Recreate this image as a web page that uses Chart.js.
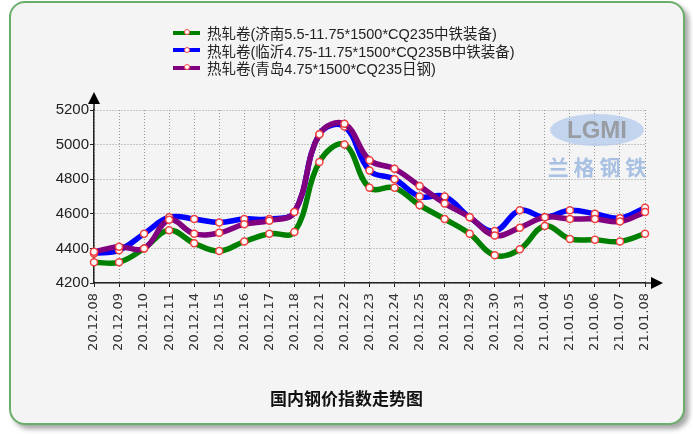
<!DOCTYPE html>
<html lang="zh-CN">
<head>
<meta charset="utf-8">
<title>国内钢价指数走势图</title>
<script src="https://cdn.jsdelivr.net/npm/chart.js@4.4.1/dist/chart.umd.min.js"></script>
<style>
  html, body { margin: 0; padding: 0; background: #fff; }
  #contenedor { position: relative; width: 693px; height: 434px; overflow: hidden; }
  #marco {
    position: absolute; left: 9px; top: 1px; width: 672px; height: 420px;
    border: 2px solid #6aae6a; border-radius: 16px; background: #f4f4f4;
    box-shadow: 4px 4px 5px rgba(0, 0, 0, 0.35);
  }
  #grafico { position: absolute; left: 0; top: 0; }
  #leyenda {
    position: absolute; left: 173px; top: 24px;
    font: 14.5px "Liberation Sans", "Noto Sans CJK SC", sans-serif; color: #222;
  }
  .fila { height: 17.5px; display: flex; align-items: center; white-space: nowrap; }
  .muestra { position: relative; width: 27px; height: 4px; margin-right: 7px; }
  .muestra i {
    position: absolute; left: 11px; top: -1.5px; width: 4px; height: 4px;
    border: 1.5px solid #f44; background: #fff; border-radius: 50%;
  }
  #titulo {
    position: absolute; left: 0; width: 693px; top: 385px; text-align: center;
    font: bold 17px "Noto Sans CJK SC", sans-serif; color: #111;
  }
</style>
</head>
<body>
<div id="contenedor">
  <div id="marco"></div>
  <canvas id="grafico" width="693" height="434"></canvas>
  <div id="leyenda"></div>
  <div id="titulo">国内钢价指数走势图</div>
</div>
<script>
// Datos
const etiquetas = ['20.12.08', '20.12.09', '20.12.10', '20.12.11', '20.12.14', '20.12.15', '20.12.16',
  '20.12.17', '20.12.18', '20.12.21', '20.12.22', '20.12.23', '20.12.24', '20.12.25', '20.12.28',
  '20.12.29', '20.12.30', '20.12.31', '21.01.04', '21.01.05', '21.01.06', '21.01.07', '21.01.08'];

const nombreJinan = '热轧卷(济南5.5-11.75*1500*CQ235中铁装备)';
const nombreLinyi = '热轧卷(临沂4.75-11.75*1500*CQ235B中铁装备)';
const nombreQingdao = '热轧卷(青岛4.75*1500*CQ235日钢)';

const precioJinan = [4320, 4320, 4400, 4505, 4430, 4385, 4440, 4485, 4495, 4900, 5000, 4750,
  4750, 4650, 4570, 4485, 4360, 4395, 4530, 4455, 4450, 4440, 4485];
const precioLinyi = [4370, 4390, 4485, 4580, 4570, 4550, 4570, 4570, 4610, 5060, 5105, 4850,
  4800, 4700, 4700, 4580, 4500, 4620, 4580, 4620, 4600, 4575, 4635];
const precioQingdao = [4380, 4410, 4400, 4565, 4485, 4490, 4540, 4560, 4610, 5060, 5120, 4910,
  4860, 4760, 4660, 4580, 4475, 4520, 4580, 4570, 4570, 4555, 4610];

const ticksEjeY = [4200, 4400, 4600, 4800, 5000, 5200];

const colorJinan = '#008000';
const colorLinyi = '#0000ff';
const colorQingdao = '#800080';

/**
 * Crea un conjunto de datos con el estilo común de las líneas
 */
function crearSerie(nombre, datos, color, orden) {
  return {
    label: nombre,
    data: datos,
    borderColor: color,
    backgroundColor: color,
    borderWidth: 5.5,
    tension: 0.4,
    fill: false,
    pointRadius: 3.5,
    pointBorderWidth: 1.5,
    pointBackgroundColor: '#fff',
    pointBorderColor: '#f04040',
    order: orden
  };
}

/**
 * Construye la leyenda en HTML
 */
function construirLeyenda(series) {
  const leyenda = document.getElementById('leyenda');
  series.forEach(s => {
    const fila = document.createElement('div');
    fila.className = 'fila';
    const muestra = document.createElement('span');
    muestra.className = 'muestra';
    muestra.style.background = s.color;
    muestra.appendChild(document.createElement('i'));
    const texto = document.createElement('span');
    texto.textContent = s.nombre;
    fila.appendChild(muestra);
    fila.appendChild(texto);
    leyenda.appendChild(fila);
  });
}

// Marca de agua y flechas de los ejes
const decoracion = {
  id: 'decoracion',
  beforeDatasetsDraw(chart) {
    const ctx = chart.ctx;
    const cx = chart.chartArea.right - 48;
    const cy = chart.chartArea.top + 20;
    ctx.save();
    ctx.globalAlpha = 0.75;
    ctx.fillStyle = '#b3cbec';
    ctx.beginPath();
    ctx.ellipse(cx, cy, 47, 16, 0, 0, Math.PI * 2);
    ctx.fill();
    ctx.font = 'bold 24px "Liberation Sans", sans-serif';
    ctx.textAlign = 'center';
    ctx.textBaseline = 'middle';
    ctx.fillStyle = '#8a8a8a';
    ctx.fillText('LGMI', cx, cy + 1);
    ctx.font = 'bold 21px "Noto Sans CJK SC", sans-serif';
    ctx.fillStyle = '#8fb0dc';
    ctx.fillText('兰 格 钢 铁', cx, cy + 37);
    ctx.restore();
  },
  afterDraw(chart) {
    const ctx = chart.ctx;
    const { left, top, right, bottom } = chart.chartArea;
    ctx.save();
    ctx.strokeStyle = '#222';
    ctx.fillStyle = '#000';
    ctx.lineWidth = 1.5;
    ctx.beginPath();
    ctx.moveTo(left, top);
    ctx.lineTo(left, top - 6);
    ctx.moveTo(right, bottom);
    ctx.lineTo(right + 6, bottom);
    ctx.stroke();
    // flecha vertical
    ctx.beginPath();
    ctx.moveTo(left, top - 18);
    ctx.lineTo(left - 6, top - 6);
    ctx.lineTo(left + 6, top - 6);
    ctx.closePath();
    ctx.fill();
    // flecha horizontal
    ctx.beginPath();
    ctx.moveTo(right + 18, bottom);
    ctx.lineTo(right + 6, bottom - 6);
    ctx.lineTo(right + 6, bottom + 6);
    ctx.closePath();
    ctx.fill();
    ctx.restore();
  }
};

function inicializarGrafico() {
  const series = [
    { nombre: nombreJinan, color: colorJinan },
    { nombre: nombreLinyi, color: colorLinyi },
    { nombre: nombreQingdao, color: colorQingdao }
  ];
  construirLeyenda(series);

  const rejilla = {
    color: '#999',
    lineWidth: 1,
    tickLength: 4,
    tickColor: '#222',
    tickBorderDash: []
  };

  new Chart(document.getElementById('grafico'), {
    type: 'line',
    data: {
      labels: etiquetas,
      datasets: [
        crearSerie(nombreJinan, precioJinan, colorJinan, 3),
        crearSerie(nombreLinyi, precioLinyi, colorLinyi, 2),
        crearSerie(nombreQingdao, precioQingdao, colorQingdao, 1)
      ]
    },
    options: {
      responsive: false,
      animation: false,
      layout: { padding: { left: 0, top: 110, right: 48, bottom: 0 } },
      plugins: {
        legend: { display: false },
        tooltip: { enabled: false }
      },
      scales: {
        x: {
          offset: false,
          grid: rejilla,
          border: { display: true, color: '#222', width: 1.5, dash: [1, 2] },
          ticks: {
            autoSkip: false,
            minRotation: 90,
            maxRotation: 90,
            padding: 6,
            color: '#333',
            font: { family: '"DejaVu Sans", sans-serif', size: 13 }
          },
          afterFit: scale => { scale.height = 151; }
        },
        y: {
          min: ticksEjeY[0],
          max: ticksEjeY[ticksEjeY.length - 1],
          grid: rejilla,
          border: { display: true, color: '#222', width: 1.5, dash: [1, 2] },
          afterBuildTicks: scale => { scale.ticks = ticksEjeY.map(v => ({ value: v })); },
          ticks: {
            padding: 1,
            color: '#222',
            font: { family: '"Liberation Sans", sans-serif', size: 15 },
            callback: valor => String(valor)
          },
          afterFit: scale => { scale.width = 94; }
        }
      }
    },
    plugins: [decoracion]
  });
}

inicializarGrafico();
</script>
</body>
</html>
